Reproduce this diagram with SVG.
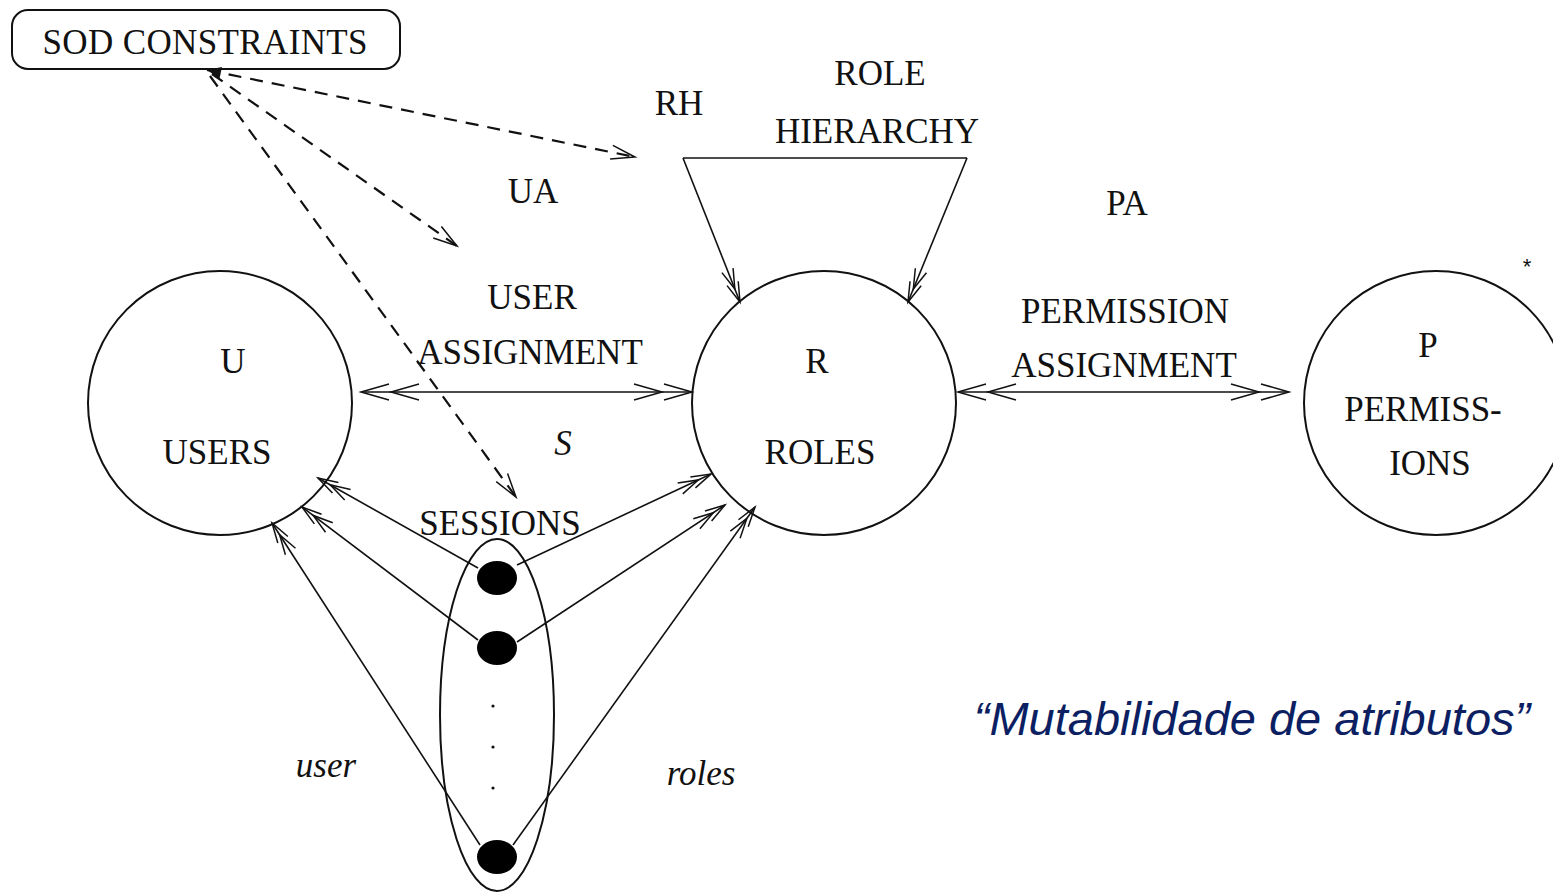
<svg xmlns="http://www.w3.org/2000/svg" width="1553" height="893" viewBox="0 0 1553 893">
<style>
.t{font-family:"Liberation Serif","Times New Roman",serif;font-size:35px;fill:#111;text-anchor:middle}
.i{font-style:italic}
.node{fill:none;stroke:#111;stroke-width:2}
.ln{fill:none;stroke:#111;stroke-width:1.6}
.dash{fill:none;stroke:#111;stroke-width:2.2;stroke-dasharray:13 9}
.mk{fill:none;stroke:#111;stroke-width:1.5}
</style>
<defs>
<marker id="dbl" markerUnits="userSpaceOnUse" markerWidth="1" markerHeight="1" refX="0" refY="0" orient="auto-start-reverse" overflow="visible">
<path class="mk" d="M-28,-8 L0,0 L-28,8 M-58,-8 L-30,0 L-58,8"/>
</marker>
<marker id="sdbl" markerUnits="userSpaceOnUse" markerWidth="1" markerHeight="1" refX="0" refY="0" orient="auto" overflow="visible">
<path class="mk" d="M-20,-6 L0,0 L-20,6 M-34,-6 L-14,0 L-34,6"/>
</marker>
<marker id="open" markerUnits="userSpaceOnUse" markerWidth="1" markerHeight="1" refX="0" refY="0" orient="auto" overflow="visible">
<path class="mk" d="M-24,-7 L0,0 L-24,7" stroke-width="2"/>
</marker>
<marker id="fill" markerUnits="userSpaceOnUse" markerWidth="1" markerHeight="1" refX="0" refY="0" orient="auto-start-reverse" overflow="visible">
<path d="M-14,-6 L0,0 L-14,6 Z" fill="#111"/>
</marker>
</defs>

<g id="sod">
<rect class="node" x="12" y="10" width="388" height="59" rx="16"/>
<text class="t" x="205" y="54" textLength="325">SOD CONSTRAINTS</text>
</g>

<g id="users">
<circle class="node" cx="220" cy="403" r="132"/>
<text class="t" x="233" y="373">U</text>
<text class="t" x="217" y="464">USERS</text>
</g>

<g id="roles">
<circle class="node" cx="824" cy="403" r="132"/>
<text class="t" x="817" y="373">R</text>
<text class="t" x="820" y="464">ROLES</text>
</g>

<g id="permissions">
<circle class="node" cx="1436" cy="403" r="132"/>
<text class="t" x="1428" y="357">P</text>
<text class="t" x="1423" y="421">PERMISS-</text>
<text class="t" x="1430" y="475">IONS</text>
</g>

<g id="sessions">
<ellipse class="node" cx="497" cy="715" rx="57" ry="176"/>
<ellipse cx="497" cy="578" rx="20" ry="17" fill="#000"/>
<ellipse cx="497" cy="648" rx="20" ry="17" fill="#000"/>
<ellipse cx="497" cy="857" rx="20" ry="17" fill="#000"/>
<circle cx="493" cy="706" r="1.6" fill="#111"/>
<circle cx="493" cy="747" r="1.6" fill="#111"/>
<circle cx="493" cy="788" r="1.6" fill="#111"/>
<text class="t" x="500" y="535">SESSIONS</text>
</g>

<g id="connectors">
<line class="ln" x1="361" y1="392" x2="692" y2="392" marker-start="url(#dbl)" marker-end="url(#dbl)"/>
<line class="ln" x1="958" y1="392" x2="1289" y2="392" marker-start="url(#dbl)" marker-end="url(#dbl)"/>
<path class="ln" d="M683,158 L967,158"/>
<line class="ln" x1="683" y1="158" x2="740" y2="302" marker-end="url(#sdbl)"/>
<line class="ln" x1="967" y1="158" x2="908" y2="302" marker-end="url(#sdbl)"/>
<line class="ln" x1="478" y1="568" x2="318" y2="478" marker-end="url(#sdbl)"/>
<line class="ln" x1="478" y1="640" x2="302" y2="507" marker-end="url(#sdbl)"/>
<line class="ln" x1="480" y1="845" x2="272" y2="523" marker-end="url(#sdbl)"/>
<line class="ln" x1="517" y1="565" x2="711" y2="474" marker-end="url(#sdbl)"/>
<line class="ln" x1="517" y1="642" x2="725" y2="505" marker-end="url(#sdbl)"/>
<line class="ln" x1="513" y1="845" x2="755" y2="507" marker-end="url(#sdbl)"/>
<line class="dash" x1="207" y1="70" x2="635" y2="157" marker-start="url(#fill)" marker-end="url(#open)"/>
<line class="dash" x1="212" y1="74" x2="457" y2="246" marker-end="url(#open)"/>
<line class="dash" x1="210" y1="76" x2="516" y2="497" marker-end="url(#open)"/>
</g>

<g id="labels">
<text class="t" x="880" y="85">ROLE</text>
<text class="t" x="679" y="115">RH</text>
<text class="t" x="877" y="143">HIERARCHY</text>
<text class="t" x="533" y="203">UA</text>
<text class="t" x="1127" y="215">PA</text>
<text class="t" x="532" y="309">USER</text>
<text class="t" x="530" y="364">ASSIGNMENT</text>
<text class="t" x="1125" y="323">PERMISSION</text>
<text class="t" x="1124" y="377">ASSIGNMENT</text>
<text class="t i" x="563" y="455">S</text>
<text class="t i" x="326" y="777">user</text>
<text class="t i" x="701" y="785">roles</text>
<text x="1527" y="274" font-family="Liberation Sans, Arial, sans-serif" font-size="22" fill="#111" text-anchor="middle">*</text>
<text x="1252" y="735" font-family="Liberation Sans, Arial, sans-serif" font-size="47" font-style="italic" fill="#0d1f63" text-anchor="middle">“Mutabilidade de atributos”</text>
</g>
</svg>
